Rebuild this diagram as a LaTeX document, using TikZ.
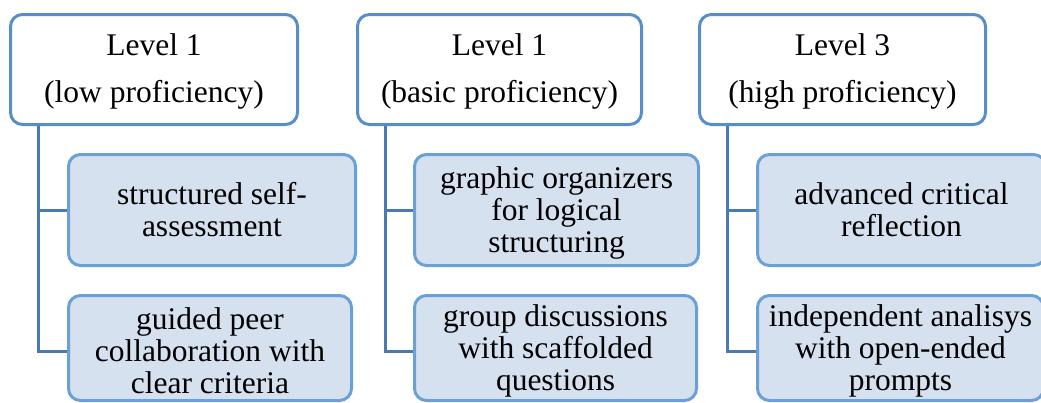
\documentclass[tikz,border=0pt]{standalone}
\usepackage{fontspec}
\setmainfont{Liberation Serif}
\definecolor{connc}{RGB}{74,122,176}
\definecolor{topc}{RGB}{88,142,200}
\definecolor{childc}{RGB}{104,160,215}
\definecolor{fillc}{RGB}{214,225,240}
\newcommand{\lowerby}{\rule{0pt}{28pt}}
\tikzset{
  levelbox/.style={draw=topc, fill=white, line width=3pt, rounded corners=12pt,
    align=center, inner sep=0pt, font=\fontsize{31.5}{47}\selectfont},
  itembox/.style={draw=childc, fill=fillc, line width=3pt, rounded corners=12pt,
    align=center, inner sep=0pt, font=\fontsize{31.5}{32}\selectfont},
  conn/.style={draw=connc, line width=3pt}
}
\begin{document}
\begin{tikzpicture}[x=1pt,y=-1pt]
\useasboundingbox (0,0) rectangle (1041,402);
\clip (0,0) rectangle (1041,402);
% level boxes
\node[levelbox, minimum width=287pt, minimum height=110pt] (T1) at (154,69.5) {\rule{0pt}{26.5pt}Level 1\\(low proficiency)};
\node[levelbox, minimum width=284pt, minimum height=110pt] (T2) at (499.5,69.5) {\rule{0pt}{26.5pt}Level 1\\(basic proficiency)};
\node[levelbox, minimum width=286pt, minimum height=110pt] (T3) at (842.5,69.5) {\rule{0pt}{26.5pt}Level 3\\(high proficiency)};
% item boxes
\node[itembox, minimum width=287pt, minimum height=111pt] (A1) at (212,210) {structured self-\\assessment};
\node[itembox, minimum width=283pt, minimum height=105pt] (B1) at (210,348) {\lowerby guided peer\\collaboration with\\clear criteria};
\node[itembox, minimum width=284pt, minimum height=111pt] (A2) at (556.5,210) {\lowerby graphic organizers\\for logical\\structuring};
\node[itembox, minimum width=282pt, minimum height=105pt] (B2) at (555.5,348) {\lowerby group discussions\\with scaffolded\\questions};
\node[itembox, minimum width=288pt, minimum height=111pt] (A3) at (901.5,210) {advanced critical\\reflection};
\node[itembox, minimum width=286pt, minimum height=105pt] (B3) at (900.5,348) {\lowerby independent analisys\\with open-ended\\prompts};
% connectors
\coordinate (s1) at ([xshift=29pt]T1.south west);
\coordinate (s2) at ([xshift=29pt]T2.south west);
\coordinate (s3) at ([xshift=29pt]T3.south west);
\draw[conn] (s1) |- ([yshift=-3pt]B1.west);
\draw[conn] (s1) |- (A1.west);
\draw[conn] (s2) |- ([yshift=-3pt]B2.west);
\draw[conn] (s2) |- (A2.west);
\draw[conn] (s3) |- ([yshift=-3pt]B3.west);
\draw[conn] (s3) |- (A3.west);
\end{tikzpicture}
\end{document}
